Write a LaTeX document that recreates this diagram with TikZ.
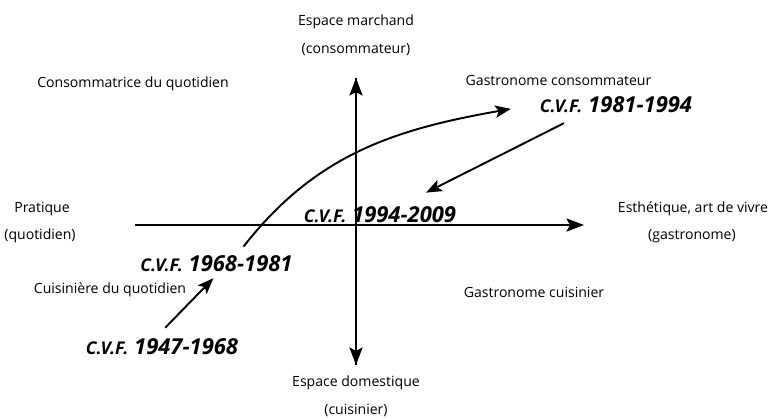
\documentclass[tikz,border=0pt]{standalone}
\usepackage{fontspec}
\setmainfont{Open Sans}
\usetikzlibrary{arrows.meta}

\newcommand{\cvf}{{\fontsize{10}{12}\selectfont C.V.F.}}

\begin{document}
\begin{tikzpicture}[scale=2,
    lab/.style={font=\fontsize{8}{10}\selectfont},
    per/.style={font=\fontsize{12.5}{14}\selectfont\bfseries\itshape},
    axis/.style={line width=1.1pt, -{Stealth[length=10pt, width=7.5pt, inset=2pt]}},
    link/.style={line width=1.1pt, -{Stealth[length=9pt, width=7pt, inset=2pt]}}]
    \useasboundingbox (0, 0) rectangle (7.68, 4.18);

    % Axis ends
    \coordinate (ytop) at (3.56, 3.40);
    \coordinate (ybot) at (3.56, 0.53);
    \coordinate (xleft) at (1.35, 1.93);
    \coordinate (xright) at (5.84, 1.93);

    % Draw the axes
    \draw[axis] (xleft) -- (xright);
    \draw[axis] (ybot) -- (ytop); % top arrow
    \draw[axis] (ytop) -- (ybot); % bottom arrow

    % Axis labels
    \node[lab] (espmarch) at (3.56, 3.96) {Espace marchand};
    \node[lab] (conso) at (3.56, 3.68) {(consommateur)};
    \node[lab] (espdom) at (3.56, 0.35) {Espace domestique};
    \node[lab] (cuisi) at (3.56, 0.08) {(cuisinier)};
    \node[lab] (pratique) at (0.42, 2.09) {Pratique};
    \node[lab] (quot) at (0.40, 1.82) {(quotidien)};
    \node[lab] (esthe) at (6.93, 2.09) {Esthétique, art de vivre};
    \node[lab] (gastro) at (6.92, 1.82) {(gastronome)};

    % Quadrant labels
    \node[lab] (consoq) at (1.33, 3.34) {Consommatrice du quotidien};
    \node[lab] (gconso) at (5.585, 3.38) {Gastronome consommateur};
    \node[lab] (cuisq) at (1.10, 1.28) {Cuisinière du quotidien};
    \node[lab] (gcuis) at (5.34, 1.26) {Gastronome cuisinier};

    % Periods
    \node[per] (p4768) at (1.62, 0.71) {\cvf{} 1947-1968};
    \node[per] (p6881) at (2.165, 1.54) {\cvf{} 1968-1981};
    \node[per] (p8194) at (6.16, 3.13) {\cvf{} 1981-1994};
    \node[per] (p9409) at (3.80, 2.03) {\cvf{} 1994-2009};

    % Draw the path between periods
    \draw[link] ([xshift=0.9pt, yshift=1.4pt]p4768.north) -- ([xshift=-0.9pt]p6881.south);
    \draw[link] ([xshift=7.7pt, yshift=0.9pt]p6881.north)
        to[out=52, in=190] ([xshift=-6.5pt, yshift=-1.1pt]p8194.west);
    \draw[link] ([xshift=-14.8pt, yshift=-1.1pt]p8194.south) -- ([xshift=13.1pt, yshift=2.3pt]p9409.north);
\end{tikzpicture}
\end{document}
